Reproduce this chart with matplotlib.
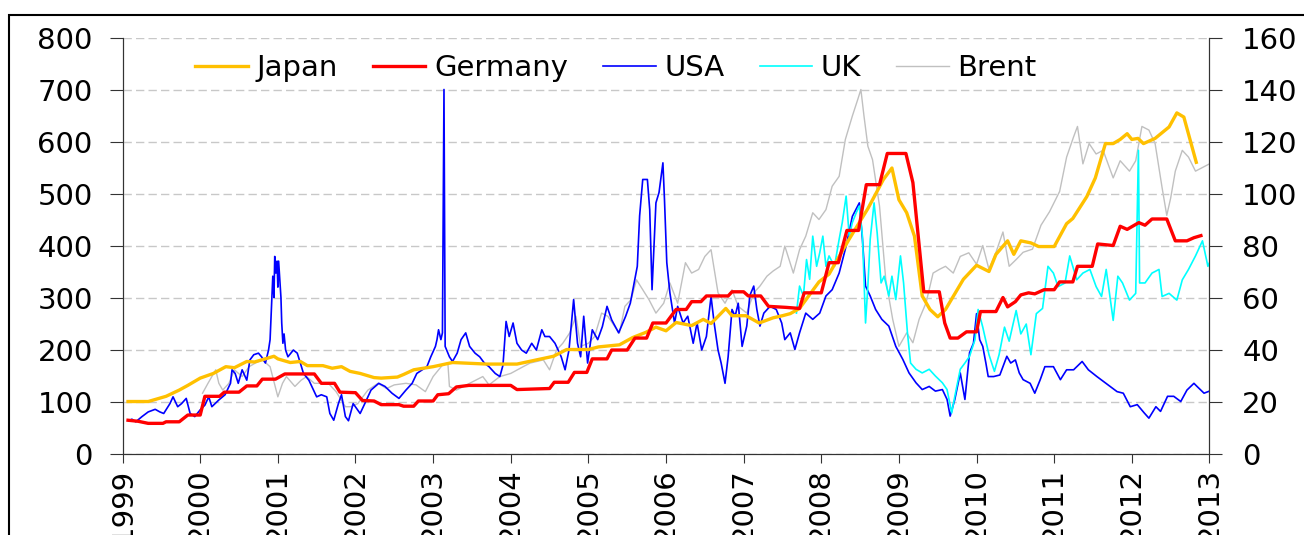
import matplotlib
matplotlib.use("Agg")
import matplotlib.pyplot as plt
from matplotlib.patches import Rectangle

# decimal year, value (left axis)
japan = [(1999.07, 100), (1999.33, 100), (1999.56, 110), (1999.73, 122), (1999.84, 131),
         (2000.0, 145), (2000.17, 154), (2000.33, 167), (2000.44, 165), (2000.6, 177),
         (2000.7, 176), (2000.95, 187), (2001.0, 182), (2001.16, 175), (2001.29, 177),
         (2001.38, 169), (2001.58, 169), (2001.7, 164), (2001.82, 167), (2001.93, 158),
         (2002.06, 154), (2002.24, 146), (2002.33, 145), (2002.54, 147), (2002.62, 152),
         (2002.75, 161), (2003.0, 167), (2003.25, 175), (2003.69, 172), (2004.08, 172),
         (2004.55, 187), (2004.72, 200), (2005.0, 200), (2005.13, 205), (2005.4, 209),
         (2005.57, 223), (2005.74, 233), (2005.87, 243), (2006.0, 236), (2006.13, 252),
         (2006.33, 246), (2006.48, 258), (2006.58, 250), (2006.77, 279), (2006.85, 265),
         (2007.03, 265), (2007.2, 251), (2007.38, 261), (2007.5, 265), (2007.6, 269),
         (2007.72, 279), (2007.97, 330), (2008.1, 345), (2008.35, 410), (2008.6, 471),
         (2008.8, 527), (2008.91, 549), (2009.0, 488), (2009.1, 463), (2009.2, 418),
         (2009.3, 303), (2009.4, 277), (2009.5, 263), (2009.6, 277), (2009.83, 335),
         (2010.0, 362), (2010.16, 350), (2010.25, 383), (2010.4, 409), (2010.48, 383),
         (2010.57, 409), (2010.7, 405), (2010.8, 398), (2011.0, 398), (2011.16, 442),
         (2011.24, 452), (2011.42, 494), (2011.53, 530), (2011.66, 596), (2011.76, 596),
         (2011.85, 604), (2011.94, 615), (2012.0, 604), (2012.08, 606), (2012.15, 596),
         (2012.3, 606), (2012.48, 628), (2012.58, 655), (2012.67, 647), (2012.83, 560)]

germany = [(1999.07, 64), (1999.2, 62), (1999.33, 58), (1999.52, 58), (1999.56, 61),
           (1999.73, 61), (1999.84, 74), (2000.0, 74), (2000.06, 110), (2000.25, 110),
           (2000.31, 118), (2000.5, 118), (2000.6, 130), (2000.73, 130), (2000.8, 143),
           (2000.97, 143), (2001.09, 153), (2001.47, 153), (2001.56, 135), (2001.73, 135),
           (2001.8, 118), (2002.0, 117), (2002.09, 102), (2002.24, 101), (2002.33, 94),
           (2002.56, 94), (2002.62, 91), (2002.75, 91), (2002.81, 101), (2003.0, 101),
           (2003.06, 113), (2003.2, 115), (2003.3, 128), (2003.46, 131), (2004.0, 131),
           (2004.08, 123), (2004.5, 125), (2004.56, 137), (2004.74, 137), (2004.82, 156),
           (2004.98, 156), (2005.05, 182), (2005.24, 182), (2005.3, 199), (2005.5, 199),
           (2005.6, 222), (2005.75, 222), (2005.83, 251), (2006.0, 251), (2006.13, 277),
           (2006.26, 277), (2006.33, 292), (2006.45, 292), (2006.52, 303), (2006.8, 303),
           (2006.85, 311), (2007.0, 311), (2007.06, 303), (2007.22, 303), (2007.32, 283),
           (2007.55, 281), (2007.72, 279), (2007.78, 309), (2008.0, 309), (2008.1, 367),
           (2008.22, 367), (2008.33, 429), (2008.48, 429), (2008.58, 517), (2008.75, 517),
           (2008.85, 577), (2009.09, 577), (2009.18, 521), (2009.32, 311), (2009.52, 311),
           (2009.59, 251), (2009.66, 222), (2009.76, 222), (2009.87, 234), (2010.0, 234),
           (2010.05, 273), (2010.25, 273), (2010.34, 300), (2010.4, 282), (2010.5, 292),
           (2010.57, 305), (2010.67, 309), (2010.75, 307), (2010.87, 315), (2011.0, 315),
           (2011.07, 330), (2011.24, 330), (2011.3, 360), (2011.49, 360), (2011.56, 403),
           (2011.76, 400), (2011.85, 437), (2011.94, 431), (2012.09, 444), (2012.17, 439),
           (2012.26, 451), (2012.45, 451), (2012.56, 409), (2012.71, 409), (2012.8, 415),
           (2012.89, 419)]

usa = [(1999.08, 63), (1999.12, 66), (1999.17, 61), (1999.25, 71), (1999.33, 80),
       (1999.42, 85), (1999.48, 80), (1999.53, 77), (1999.61, 96), (1999.65, 109),
       (1999.71, 90), (1999.76, 96), (1999.82, 106), (1999.87, 77), (1999.93, 71),
       (2000.0, 84), (2000.06, 93), (2000.11, 109), (2000.15, 90), (2000.24, 103),
       (2000.32, 113), (2000.39, 135), (2000.41, 161), (2000.45, 154), (2000.49, 135),
       (2000.54, 161), (2000.6, 141), (2000.64, 180), (2000.69, 190), (2000.75, 193),
       (2000.79, 186), (2000.84, 174), (2000.88, 199), (2000.9, 219), (2000.92, 289),
       (2000.935, 341), (2000.95, 300), (2000.96, 379), (2000.975, 347), (2000.99, 370),
       (2001.0, 320), (2001.01, 370), (2001.025, 335), (2001.04, 300), (2001.05, 251),
       (2001.065, 212), (2001.08, 230), (2001.1, 199), (2001.13, 186), (2001.2, 199),
       (2001.25, 193), (2001.29, 174), (2001.33, 154), (2001.4, 141), (2001.5, 109),
       (2001.56, 113), (2001.63, 109), (2001.67, 77), (2001.72, 64), (2001.78, 96),
       (2001.82, 113), (2001.87, 71), (2001.91, 63), (2001.97, 96), (2002.06, 77),
       (2002.12, 96), (2002.2, 122), (2002.3, 135), (2002.38, 129), (2002.47, 116),
       (2002.56, 106), (2002.65, 122), (2002.73, 135), (2002.79, 154), (2002.86, 161),
       (2002.92, 167), (2002.97, 186), (2003.03, 206), (2003.05, 219), (2003.07, 238),
       (2003.1, 219), (2003.12, 232), (2003.14, 700), (2003.155, 206), (2003.21, 186),
       (2003.25, 177), (2003.31, 193), (2003.36, 219), (2003.42, 232), (2003.47, 206),
       (2003.54, 193), (2003.6, 186), (2003.66, 174), (2003.72, 167), (2003.8, 154),
       (2003.86, 148), (2003.9, 170), (2003.94, 254), (2003.98, 225), (2004.03, 251),
       (2004.08, 212), (2004.14, 199), (2004.2, 193), (2004.27, 212), (2004.33, 199),
       (2004.4, 238), (2004.44, 225), (2004.5, 225), (2004.57, 212), (2004.65, 186),
       (2004.7, 161), (2004.75, 199), (2004.81, 296), (2004.86, 212), (2004.9, 186),
       (2004.94, 264), (2004.99, 174), (2005.05, 238), (2005.12, 219), (2005.18, 244),
       (2005.24, 283), (2005.3, 257), (2005.39, 232), (2005.48, 264), (2005.54, 289),
       (2005.59, 328), (2005.63, 360), (2005.66, 457), (2005.7, 527), (2005.76, 527),
       (2005.79, 469), (2005.82, 315), (2005.87, 482), (2005.91, 502), (2005.96, 559),
       (2005.98, 489), (2006.01, 367), (2006.05, 309), (2006.11, 251), (2006.15, 283),
       (2006.22, 251), (2006.28, 264), (2006.35, 212), (2006.4, 251), (2006.46, 199),
       (2006.52, 225), (2006.58, 302), (2006.62, 251), (2006.67, 199), (2006.71, 174),
       (2006.76, 135), (2006.8, 186), (2006.85, 277), (2006.89, 264), (2006.93, 289),
       (2006.98, 206), (2007.04, 245), (2007.08, 304), (2007.13, 322), (2007.17, 277),
       (2007.21, 245), (2007.26, 270), (2007.34, 283), (2007.42, 277), (2007.49, 251),
       (2007.53, 219), (2007.6, 232), (2007.66, 200), (2007.72, 232), (2007.8, 270),
       (2007.89, 258), (2007.98, 270), (2008.06, 303), (2008.14, 315), (2008.23, 347),
       (2008.32, 399), (2008.4, 456), (2008.49, 482), (2008.53, 412), (2008.57, 322),
       (2008.63, 303), (2008.7, 277), (2008.78, 258), (2008.87, 245), (2008.96, 206),
       (2009.05, 181), (2009.13, 155), (2009.22, 136), (2009.3, 123), (2009.39, 129),
       (2009.47, 120), (2009.56, 123), (2009.62, 104), (2009.66, 72), (2009.72, 104),
       (2009.79, 155), (2009.85, 104), (2009.91, 194), (2009.96, 212), (2010.0, 269),
       (2010.04, 219), (2010.08, 206), (2010.12, 174), (2010.15, 148), (2010.22, 148),
       (2010.3, 151), (2010.34, 167), (2010.39, 187), (2010.44, 174), (2010.5, 180),
       (2010.55, 155), (2010.6, 142), (2010.69, 135), (2010.75, 116), (2010.82, 142),
       (2010.88, 167), (2010.99, 167), (2011.08, 142), (2011.16, 161), (2011.25, 161),
       (2011.36, 177), (2011.44, 161), (2011.55, 148), (2011.63, 139), (2011.72, 129),
       (2011.81, 119), (2011.89, 116), (2011.98, 90), (2012.07, 94), (2012.16, 78),
       (2012.22, 68), (2012.31, 90), (2012.37, 81), (2012.46, 110), (2012.54, 110),
       (2012.63, 100), (2012.71, 122), (2012.8, 135), (2012.84, 129), (2012.93, 116),
       (2013.0, 120)]

uk = [(2007.68, 270), (2007.72, 322), (2007.77, 303), (2007.81, 373), (2007.85, 335),
      (2007.89, 418), (2007.94, 360), (2007.98, 386), (2008.02, 418), (2008.06, 360),
      (2008.1, 380), (2008.17, 360), (2008.23, 412), (2008.27, 444), (2008.32, 495),
      (2008.36, 418), (2008.4, 444), (2008.45, 463), (2008.49, 476), (2008.53, 418),
      (2008.57, 251), (2008.6, 322), (2008.63, 412), (2008.68, 482), (2008.72, 424),
      (2008.77, 328), (2008.81, 341), (2008.87, 303), (2008.91, 341), (2008.96, 296),
      (2009.02, 380), (2009.06, 328), (2009.11, 232), (2009.15, 174), (2009.22, 162),
      (2009.3, 155), (2009.39, 162), (2009.47, 149), (2009.56, 136), (2009.62, 123),
      (2009.68, 78), (2009.72, 110), (2009.79, 162), (2009.85, 174), (2009.91, 187),
      (2009.98, 219), (2010.02, 277), (2010.08, 243), (2010.16, 190), (2010.23, 158),
      (2010.29, 190), (2010.36, 243), (2010.42, 216), (2010.51, 275), (2010.57, 230),
      (2010.64, 249), (2010.7, 190), (2010.77, 269), (2010.85, 279), (2010.92, 360),
      (2010.99, 347), (2011.05, 321), (2011.14, 328), (2011.2, 380), (2011.29, 334),
      (2011.37, 347), (2011.46, 354), (2011.54, 321), (2011.61, 302), (2011.67, 354),
      (2011.76, 256), (2011.82, 341), (2011.88, 328), (2011.97, 295), (2012.05, 308),
      (2012.085, 583), (2012.1, 328), (2012.17, 328), (2012.26, 347), (2012.35, 354),
      (2012.39, 302), (2012.48, 308), (2012.58, 295), (2012.65, 334), (2012.73, 354),
      (2012.82, 380), (2012.91, 409), (2012.98, 360), (2013.0, 367)]

# Brent in USD, right axis
brent = [(2000.03, 23.2), (2000.1, 27), (2000.2, 32.2), (2000.24, 27), (2000.29, 24.4),
         (2000.37, 27), (2000.44, 32.2), (2000.54, 29.6), (2000.63, 33.4), (2000.71, 34.8),
         (2000.8, 36), (2000.9, 33.4), (2001.0, 21.8), (2001.06, 27), (2001.11, 29.6),
         (2001.22, 25.8), (2001.3, 28.2), (2001.37, 29.6), (2001.47, 27), (2001.56, 27),
         (2001.65, 27), (2001.75, 23.8), (2001.87, 18), (2001.94, 18), (2002.03, 19.2),
         (2002.16, 24.4), (2002.29, 27), (2002.4, 25), (2002.5, 26.4), (2002.65, 27),
         (2002.78, 26.4), (2002.9, 23.8), (2003.0, 29.6), (2003.12, 34), (2003.19, 34.8),
         (2003.21, 25.8), (2003.3, 24.4), (2003.47, 27), (2003.64, 29.6), (2003.72, 26.4),
         (2003.86, 29.6), (2004.0, 30.8), (2004.16, 33.4), (2004.25, 34.8), (2004.42, 36),
         (2004.5, 32.2), (2004.59, 39.8), (2004.67, 42.4), (2004.76, 46.4), (2004.84, 52.8),
         (2004.9, 41.2), (2005.0, 42.4), (2005.08, 45), (2005.17, 54), (2005.25, 52.8),
         (2005.34, 48.8), (2005.4, 46.4), (2005.47, 56.6), (2005.55, 59.2), (2005.62, 66.8),
         (2005.7, 63), (2005.78, 59.2), (2005.87, 54), (2005.97, 57.8), (2006.05, 65.6),
         (2006.15, 57.8), (2006.25, 73.4), (2006.33, 69.4), (2006.42, 70.8), (2006.5, 75.8),
         (2006.58, 78.4), (2006.67, 61.8), (2006.76, 57.8), (2006.85, 63), (2006.93, 56.6),
         (2007.04, 54), (2007.13, 61.8), (2007.21, 64.4), (2007.3, 68.2), (2007.38, 70.2),
         (2007.47, 72), (2007.53, 79.8), (2007.64, 69.4), (2007.72, 78.4), (2007.8, 83.6),
         (2007.89, 92.6), (2007.97, 90), (2008.06, 93.8), (2008.14, 102.8), (2008.23, 106.6),
         (2008.31, 120.8), (2008.4, 129.8), (2008.47, 136.2), (2008.51, 140), (2008.55, 129.8),
         (2008.6, 118.2), (2008.66, 113), (2008.75, 95.2), (2008.83, 67), (2008.92, 51.6),
         (2009.0, 41.2), (2009.1, 46.4), (2009.18, 42.6), (2009.26, 51.6), (2009.35, 58),
         (2009.44, 69.4), (2009.52, 70.8), (2009.6, 72), (2009.7, 69.4), (2009.79, 75.8),
         (2009.9, 77.2), (2010.0, 72.8), (2010.08, 80), (2010.16, 70.8), (2010.25, 77.4),
         (2010.34, 85.2), (2010.42, 72), (2010.51, 74.6), (2010.6, 77.4), (2010.72, 78.6),
         (2010.83, 87.8), (2010.94, 93), (2011.07, 100.8), (2011.16, 114), (2011.25, 121.8),
         (2011.3, 125.8), (2011.37, 111.4), (2011.45, 119.2), (2011.54, 115.2), (2011.63, 116.6),
         (2011.76, 106), (2011.85, 112.6), (2011.97, 108.6), (2012.05, 112.6), (2012.13, 125.8),
         (2012.22, 124.4), (2012.3, 119.2), (2012.39, 102.2), (2012.45, 91.6), (2012.5, 98.2),
         (2012.56, 108.6), (2012.65, 116.6), (2012.73, 114), (2012.82, 108.6), (2012.91, 110),
         (2013.0, 111.4)]

years = list(range(1999, 2014))

plt.rcParams['font.family'] = 'DejaVu Sans'
fs = 21

fig = plt.figure(figsize=(13.04, 5.35), dpi=100)
ax = fig.add_axes([0.094, 0.1523, 0.8335, 0.7776])
ax2 = ax.twinx()
ax.set_zorder(ax2.get_zorder() + 1)
ax.patch.set_visible(False)

def xy(series):
    return [p[0] for p in series], [p[1] for p in series]

ax2.plot(*xy(brent), color='#c0c0c0', lw=1.0, label='Brent')
ax.plot(*xy(usa), color='#0000ff', lw=1.2, label='USA')
ax.plot(*xy(uk), color='#00ffff', lw=1.2, label='UK')
ax.plot(*xy(japan), color='#ffc000', lw=2.4, label='Japan')
ax.plot(*xy(germany), color='#ff0000', lw=2.4, label='Germany')

ax.set_xlim(1999, 2013)
ax.set_ylim(0, 800)
ax2.set_ylim(0, 160)
ax.set_yticks(range(0, 801, 100))
ax2.set_yticks(range(0, 161, 20))
ax.set_xticks(years)
ax.set_xticklabels([str(y) for y in years], rotation=90)

ax.grid(axis='y', color='#c8c8c8', linestyle=(0, (6, 3)), lw=1)
ax.set_axisbelow(True)

for a in (ax, ax2):
    a.spines['top'].set_visible(False)
    for s in a.spines.values():
        s.set_color('#333333')
ax.tick_params(axis='y', length=9.5, pad=12, labelsize=fs, color='#333333')
ax.tick_params(axis='x', length=6.5, pad=4, labelsize=fs, color='#333333')
ax2.tick_params(axis='y', length=9.5, pad=14, labelsize=fs, color='#333333')

h1, l1 = ax.get_legend_handles_labels()
h2, l2 = ax2.get_legend_handles_labels()
order = ['Japan', 'Germany', 'USA', 'UK', 'Brent']
hd = dict(zip(l1 + l2, h1 + h2))
ax.legend([hd[k] for k in order], order, loc='center', bbox_to_anchor=(0.454, 0.927),
          ncol=5, frameon=False, fontsize=fs, handlelength=1.8, handletextpad=0.3,
          columnspacing=1.2, borderpad=0)

fig.add_artist(Rectangle((9 / 1304, -0.1), 1.2, 1.1 - 15 / 535, transform=fig.transFigure,
                         fill=False, edgecolor='black', lw=1.5, clip_on=False))

fig.savefig('out.png', dpi=100)
